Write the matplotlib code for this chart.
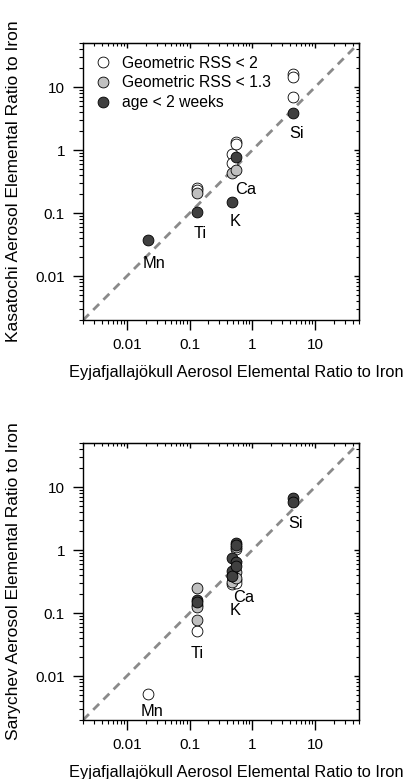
import matplotlib
matplotlib.use("Agg")
import matplotlib.pyplot as plt
from matplotlib.ticker import LogLocator, FuncFormatter, NullFormatter
from matplotlib.lines import Line2D

plt.rcParams["font.family"] = ["Liberation Sans", "DejaVu Sans"]
plt.rcParams["font.size"] = 11

# Eyjafjallajokull ratios to Fe (x position of each element)
x_el = {"Mn": 0.0215, "Ti": 0.13, "K": 0.48, "Ca": 0.56, "Si": 4.5}

# top panel: Kasatochi
kas_white = [("Ti", 0.254), ("Ti", 0.23), ("K", 0.87), ("K", 0.62),
             ("Ca", 1.37), ("Ca", 1.26), ("Si", 16.3), ("Si", 14.4), ("Si", 7.1)]
kas_gray = [("Ti", 0.21), ("K", 0.44), ("Ca", 0.48)]
kas_dark = [("Mn", 0.037), ("Ti", 0.104), ("K", 0.152), ("Ca", 0.77), ("Si", 3.87)]
kas_labels = {"Si": (5.1, 1.86), "Ca": (0.77, 0.24), "K": (0.54, 0.073),
              "Ti": (0.148, 0.048), "Mn": (0.0275, 0.016)}

# bottom panel: Sarychev
sar_white = [("Mn", 0.0051), ("Ti", 0.052), ("K", 0.29), ("Ca", 1.04),
             ("Ca", 0.34), ("Ca", 0.30)]
sar_gray = [("Ti", 0.246), ("Ti", 0.135), ("Ti", 0.124), ("Ti", 0.078),
            ("K", 0.31), ("K", 0.39), ("Ca", 0.44), ("Ca", 0.36), ("Ca", 1.1)]
sar_dark = [("Ti", 0.162), ("Ti", 0.15), ("K", 0.74), ("K", 0.47), ("K", 0.39),
            ("Ca", 1.3), ("Ca", 1.2), ("Ca", 0.64), ("Ca", 0.56),
            ("Si", 6.7), ("Si", 5.8)]
sar_labels = {"Si": (4.9, 2.6), "Ca": (0.72, 0.177), "K": (0.53, 0.109),
              "Ti": (0.13, 0.0226), "Mn": (0.025, 0.0027)}

series_names = ["Geometric RSS < 2", "Geometric RSS < 1.3", "age < 2 weeks"]
series_colors = ["white", "#c0c0c0", "#404040"]
lims = (0.002, 50)


def fmt(v, pos):
    return "%g" % v


def style_axes(ax):
    ax.set_xscale("log")
    ax.set_yscale("log")
    ax.set_xlim(*lims)
    ax.set_ylim(*lims)
    for axis in (ax.xaxis, ax.yaxis):
        axis.set_major_locator(LogLocator(base=10, numticks=10))
        axis.set_minor_locator(LogLocator(base=10, subs=range(2, 10), numticks=10))
        axis.set_major_formatter(FuncFormatter(fmt))
        axis.set_minor_formatter(NullFormatter())
    ax.tick_params(which="major", direction="out", length=7, width=1, labelsize=11, pad=6)
    ax.tick_params(which="minor", direction="out", length=3, width=0.8)
    for sp in ax.spines.values():
        sp.set_linewidth(1)
    top = ax.secondary_xaxis("top")
    right = ax.secondary_yaxis("right")
    for sec, axis in ((top, top.xaxis), (right, right.yaxis)):
        axis.set_major_locator(LogLocator(base=10, numticks=10))
        axis.set_minor_locator(LogLocator(base=10, subs=range(2, 10), numticks=10))
        axis.set_major_formatter(NullFormatter())
        axis.set_minor_formatter(NullFormatter())
        sec.tick_params(which="major", direction="in", length=3.8, width=1)
        sec.tick_params(which="minor", direction="in", length=2.4, width=0.8)


def draw_panel(ax, groups, labels, ylabel):
    ax.axline((0.01, 0.01), (10, 10), color="#8a8a8a", lw=2, dashes=(3, 2.2), zorder=1)
    for pts, col in zip(groups, series_colors):
        xs = [x_el[el] for el, v in pts]
        ys = [v for el, v in pts]
        ax.plot(xs, ys, "o", ms=7.8, mfc=col, mec="black", mew=0.6, zorder=3)
    for el, (lx, ly) in labels.items():
        ax.text(lx, ly, el, ha="center", va="center", fontsize=11.8)
    style_axes(ax)
    ax.set_xlabel("Eyjafjallajökull Aerosol Elemental Ratio to Iron", fontsize=11.8,
                  labelpad=9.5, x=0.554)
    ax.set_ylabel(ylabel, fontsize=12.5, labelpad=10)


fig = plt.figure(figsize=(4.05, 7.79), dpi=100)
ax1 = fig.add_axes([0.205, 0.589, 0.681, 0.3556])
ax2 = fig.add_axes([0.205, 0.0757, 0.681, 0.3556])

draw_panel(ax1, [kas_white, kas_gray, kas_dark], kas_labels,
           "Kasatochi Aerosol Elemental Ratio to Iron")
draw_panel(ax2, [sar_white, sar_gray, sar_dark], sar_labels,
           "Sarychev Aerosol Elemental Ratio to Iron")

handles = [Line2D([], [], marker="o", ls="", ms=7.8, mfc=c, mec="black", mew=0.6)
           for c in series_colors]
ax1.legend(handles, series_names, loc="upper left", frameon=False,
           handlelength=1.0, handletextpad=0.7, labelspacing=0.3,
           borderaxespad=0.4, fontsize=11.3, bbox_to_anchor=(0.0, 1.0))

fig.savefig("out.png", dpi=100)
